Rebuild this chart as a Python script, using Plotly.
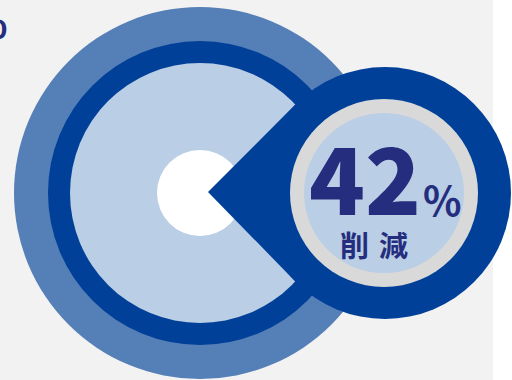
import plotly.graph_objects as go

# Headline figure and its caption
reduction_value = [42]
unit_label = ["%"]
caption_chars = ["削", "減"]

W, H = 512, 380

BG_GRAY = "#f2f2f2"
MID_BLUE = "#547fb7"
DARK_BLUE = "#004098"
LIGHT_BLUE = "#bacee5"
RING_GRAY = "#d9d9d9"
NAVY = "#252e7e"
FONT = "Noto Sans CJK JP"

fig = go.Figure()


def circle(cx, cy, r, color):
    fig.add_shape(type="circle", xref="x", yref="y",
                  x0=cx - r, x1=cx + r, y0=cy - r, y1=cy + r,
                  fillcolor=color, line=dict(width=0), layer="above")


# backdrop panel
fig.add_shape(type="rect", xref="x", yref="y", x0=0, x1=493, y0=0, y1=H,
              fillcolor=BG_GRAY, line=dict(width=0), layer="below")

# left target: concentric discs
lc = (200, 193)
circle(*lc, 186, MID_BLUE)
circle(*lc, 152, DARK_BLUE)
circle(*lc, 130, LIGHT_BLUE)
circle(*lc, 43, "#ffffff")

# callout bubble: disc plus pointer wedge
rc = (385, 193)
rr = 126
apex = (208, 192)
circle(*rc, rr, DARK_BLUE)
fig.add_shape(type="path", xref="x", yref="y",
              path=f"M {apex[0]},{apex[1]} L 295.3,104.6 L 330,193 L 295.3,281.4 Z",
              fillcolor=DARK_BLUE, line=dict(width=0), layer="above")
circle(384, 193, 94, RING_GRAY)
circle(384, 193, 80, LIGHT_BLUE)

# headline number
fig.add_annotation(x=365, y=174, xref="x", yref="y", showarrow=False,
                   text=str(reduction_value[0]), xanchor="center", yanchor="middle",
                   font=dict(family=FONT, size=92, color=NAVY, weight=900))
fig.add_annotation(x=442, y=199, xref="x", yref="y", showarrow=False,
                   text=unit_label[0], xanchor="center", yanchor="middle",
                   font=dict(family=FONT, size=40, color=NAVY, weight=700))
for cx, ch in zip([354, 393], caption_chars):
    fig.add_annotation(x=cx, y=244, xref="x", yref="y", showarrow=False,
                       text=ch, xanchor="center", yanchor="middle",
                       font=dict(family=FONT, size=29, color=NAVY, weight=700))

# clipped unit glyph at the top-left edge
fig.add_annotation(x=10, y=21, xref="x", yref="y", showarrow=False,
                   text=unit_label[0], xanchor="right", yanchor="middle",
                   font=dict(family=FONT, size=40, color=NAVY, weight=700))

fig.update_xaxes(range=[0, W], visible=False, fixedrange=True)
fig.update_yaxes(range=[H, 0], visible=False, fixedrange=True)
fig.update_layout(width=W, height=H, margin=dict(l=0, r=0, t=0, b=0),
                  paper_bgcolor="#ffffff", plot_bgcolor="#ffffff",
                  showlegend=False)

fig.write_html("out.html", config={"displayModeBar": False})
